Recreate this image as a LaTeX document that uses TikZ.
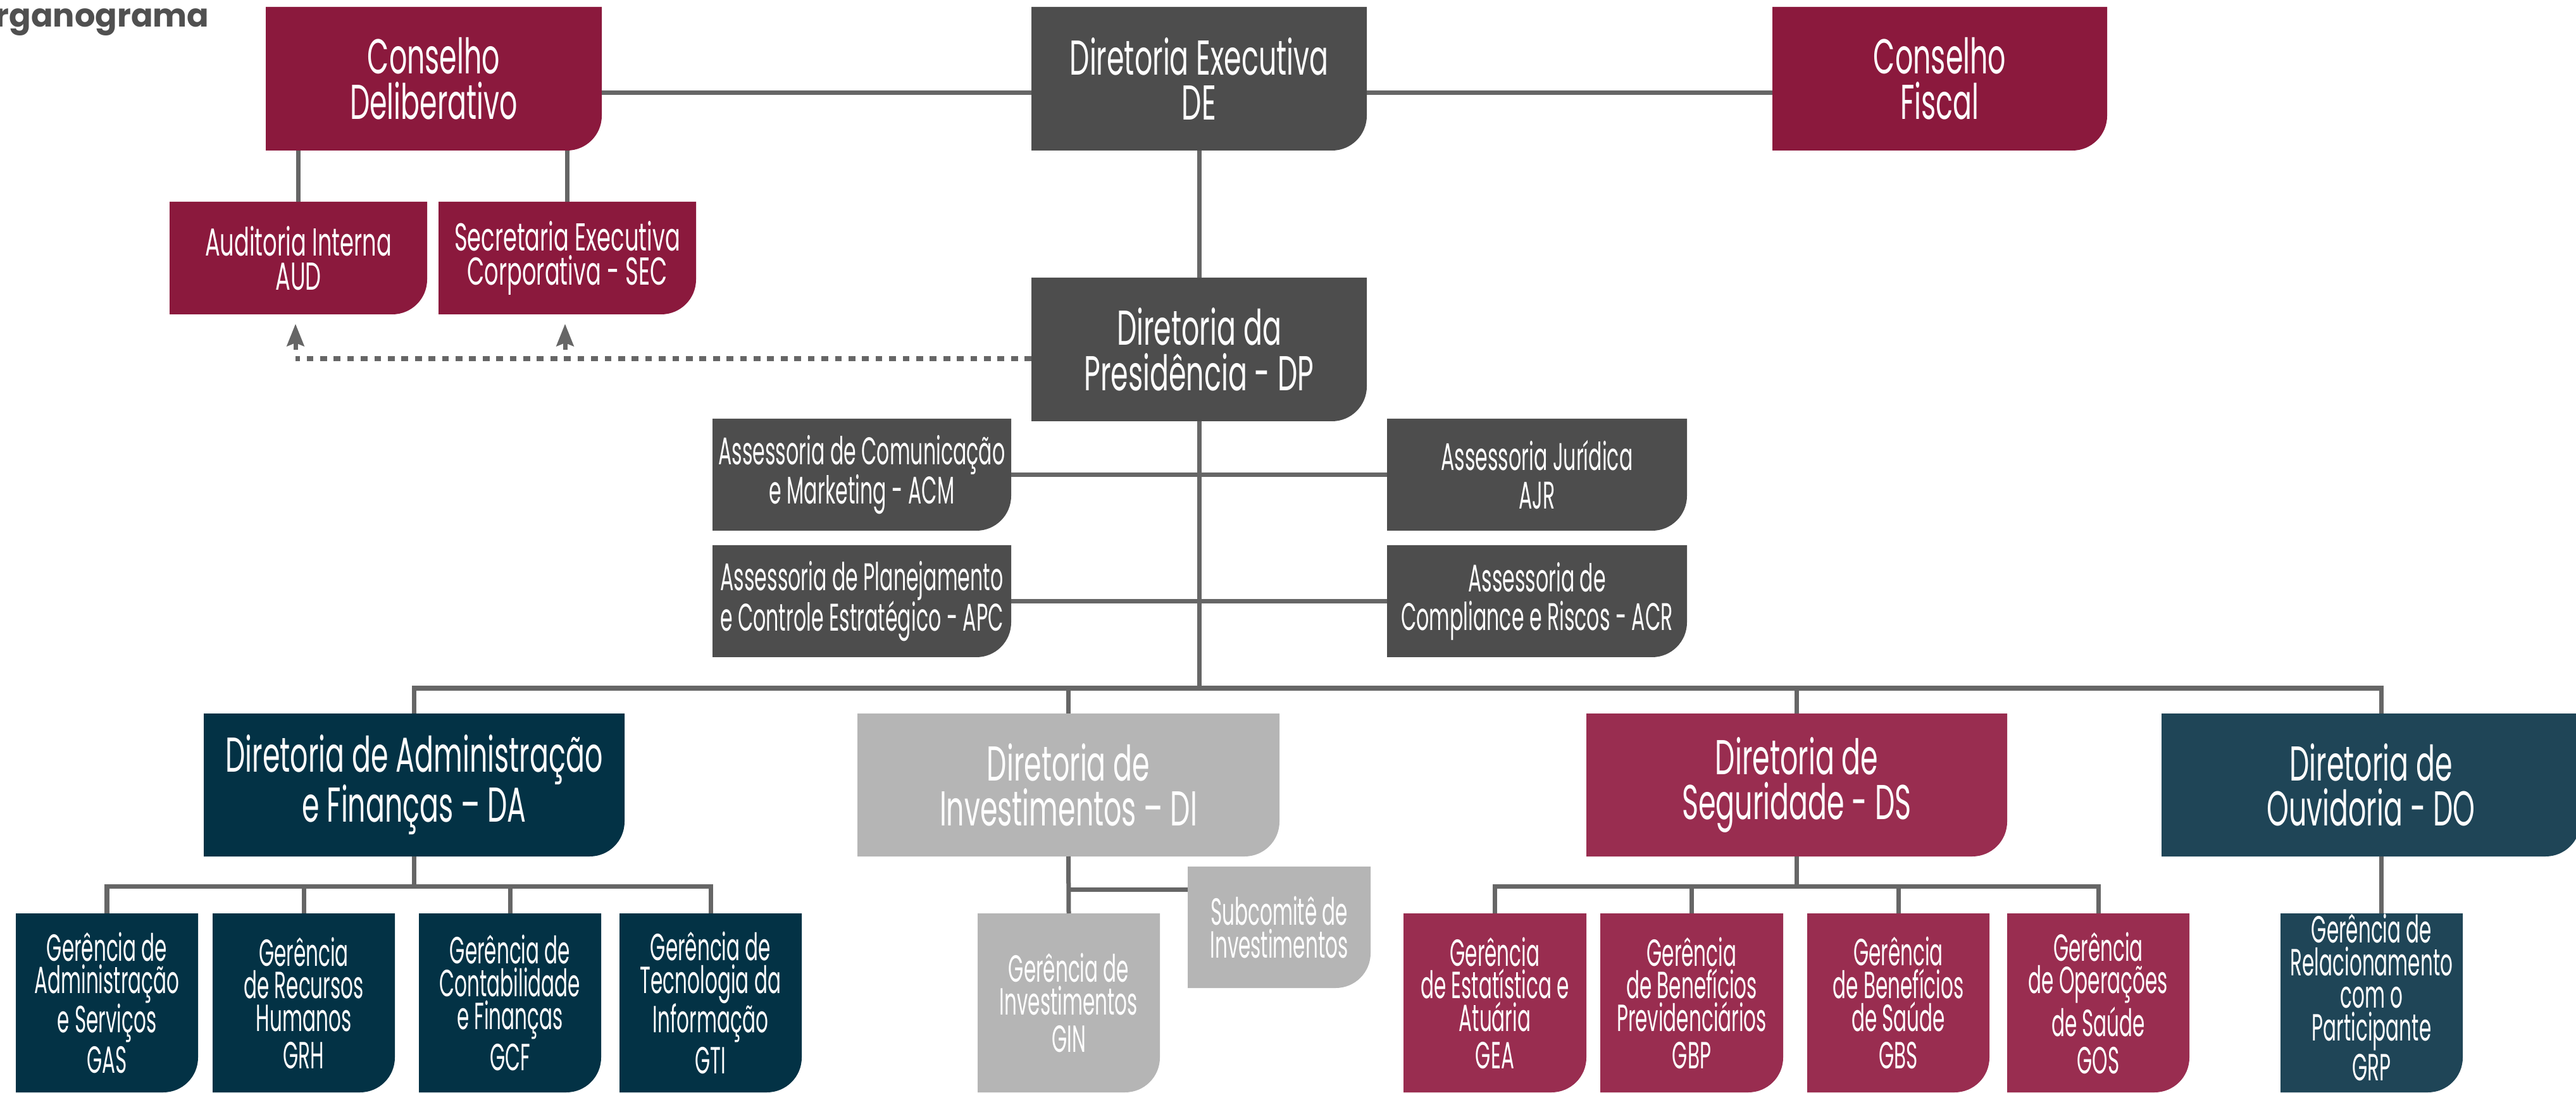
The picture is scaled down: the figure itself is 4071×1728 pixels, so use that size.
\documentclass[tikz,border=0pt]{standalone}
\usepackage{fontspec}
\setmainfont{Poppins}[FakeStretch=0.573]
\newfontfamily\narfont{Poppins}[FakeStretch=0.52]
\newfontfamily\titlefont{Poppins}
\usetikzlibrary{arrows.meta,calc}
\definecolor{crim}{RGB}{139,25,61}
\definecolor{rose}{RGB}{153,45,80}
\definecolor{navy}{RGB}{3,50,69}
\definecolor{slate}{RGB}{31,69,87}
\definecolor{dgray}{RGB}{77,77,77}
\definecolor{lgray}{RGB}{181,181,181}
\definecolor{linec}{RGB}{102,102,102}
\definecolor{titlec}{RGB}{80,80,80}
\tikzset{
  conn/.style={draw=linec, line width=0.07cm},
  dotline/.style={draw=linec, line width=0.08cm, dash pattern=on 0.107cm off 0.107cm},
  upArr/.style={draw=linec, line width=0.07cm, -{Stealth[length=0.35cm,width=0.27cm,inset=0.05cm]}},
  boxlabel/.style={inner sep=0pt, outer sep=0pt, align=center, text=white},
  bigtxt/.style={font=\fontsize{22}{20.4}\selectfont},
  audtxt/.style={font=\fontsize{17.5}{15.3}\selectfont},
  asstxt/.style={font=\narfont\fontsize{17.3}{17.3}\selectfont},
  gertxt/.style={font=\narfont\fontsize{17}{14.7}\selectfont},
}
\newcommand\orgbox[8]{%
  \fill[#6] (#2,#3) -- (#4,#3) -- (#4,{(#3+#5)/2}) [rounded corners=0.55cm] -- (#4,#5) -- ({(#2+#4)/2},#5) [sharp corners] -- (#2,#5) -- cycle;
  \node[boxlabel, #7, minimum width={(#4-#2)*0.01cm}, minimum height={(#5-#3)*0.01cm}] (#1) at ({(#2+#4)/2},{(#3+#5)/2}) {#8};
}
\begin{document}
\lineskiplimit=0pt
\lineskip=0pt
\begin{tikzpicture}[x=0.01cm, y=-0.01cm]
\useasboundingbox (0,0) rectangle (4071,1728);
\clip (0,0) rectangle (4071,1728);

\node[anchor=base west, inner sep=0pt, text=titlec, font={\titlefont\fontsize{14.5}{16}\selectfont\bfseries}] (title) at (-8,43) {rganograma};

% top row
\orgbox{CD}{420}{11}{951}{238}{crim}{bigtxt}{Conselho\\Deliberativo}
\orgbox{DE}{1630}{11}{2160}{238}{dgray}{bigtxt}{Diretoria Executiva\\DE}
\orgbox{CF}{2801}{11}{3330}{238}{crim}{bigtxt}{Conselho\\Fiscal}
\orgbox{AUD}{268}{319}{675}{497}{crim}{audtxt}{Auditoria Interna\\AUD}
\orgbox{SEC}{693}{319}{1100}{497}{crim}{audtxt}{Secretaria Executiva\\Corporativa - SEC}
\orgbox{DP}{1630}{439}{2160}{666}{dgray}{bigtxt}{Diretoria da\\Presidência - DP}
\orgbox{ACM}{1126}{662}{1598}{839}{dgray}{asstxt}{Assessoria de Comunicação\\e Marketing - ACM}
\orgbox{AJR}{2192}{662}{2666}{839}{dgray}{asstxt}{Assessoria Jurídica\\AJR}
\orgbox{APC}{1126}{862}{1598}{1039}{dgray}{asstxt}{Assessoria de Planejamento\\e Controle Estratégico - APC}
\orgbox{ACR}{2192}{862}{2666}{1039}{dgray}{asstxt}{Assessoria de\\Compliance e Riscos - ACR}

% directorates
\orgbox{DA}{322}{1128}{987}{1354}{navy}{bigtxt}{Diretoria de Administração\\e Finanças – DA}
\orgbox{DI}{1355}{1128}{2022}{1354}{lgray}{bigtxt}{Diretoria de\\Investimentos – DI}
\orgbox{DS}{2507}{1128}{3172}{1354}{rose}{bigtxt}{Diretoria de\\Seguridade - DS}
\orgbox{DO}{3416}{1128}{4078}{1354}{slate}{bigtxt}{Diretoria de\\Ouvidoria - DO}

% gerencias
\orgbox{GAS}{25}{1444}{313}{1727}{navy}{gertxt}{Gerência de\\Administração\\e Serviços\\[2pt]GAS}
\orgbox{GRH}{336}{1444}{624}{1727}{navy}{gertxt}{Gerência\\de Recursos\\Humanos\\[2pt]GRH}
\orgbox{GCF}{662}{1444}{950}{1727}{navy}{gertxt}{Gerência de\\Contabilidade\\e Finanças\\[2pt]GCF}
\orgbox{GTI}{979}{1444}{1267}{1727}{navy}{gertxt}{Gerência de\\Tecnologia da\\Informação\\[2pt]GTI}
\orgbox{GIN}{1545}{1444}{1833}{1727}{lgray}{gertxt}{Gerência de\\Investimentos\\[2pt]GIN}
\orgbox{SUB}{1877}{1370}{2166}{1562}{lgray}{gertxt}{Subcomitê de\\Investimentos}
\orgbox{GEA}{2218}{1444}{2507}{1727}{rose}{gertxt}{Gerência\\de Estatística e\\Atuária\\[2pt]GEA}
\orgbox{GBP}{2529}{1444}{2818}{1727}{rose}{gertxt}{Gerência\\de Benefícios\\Previdenciários\\[2pt]GBP}
\orgbox{GBS}{2856}{1444}{3144}{1727}{rose}{gertxt}{Gerência\\de Benefícios\\de Saúde\\[2pt]GBS}
\orgbox{GOS}{3172}{1444}{3460}{1727}{rose}{gertxt}{Gerência\\de Operações\\[1.5pt]de Saúde\\[2pt]GOS}
\orgbox{GRP}{3604}{1444}{3892}{1727}{slate}{gertxt, text depth=5pt}{Gerência de\\Relacionamento\\com o\\Participante\\[1.5pt]GRP}

% helper coordinates
\coordinate (topl) at (0,147);
\coordinate (bus) at (0,1088);
\coordinate (sbus) at (0,1401);
\coordinate (subl) at (0,1406);
\coordinate (dox) at (3763,0);
\coordinate (dot) at (467,567);
\coordinate (a1) at (467,553);
\coordinate (a2) at (893,553);

% connectors
\draw[conn] (CD.east |- topl) -- (DE.west |- topl);
\draw[conn] (DE.east |- topl) -- (CF.west |- topl);
\draw[conn] (AUD.north |- CD.south) -- (AUD.north);
\draw[conn] (SEC.north |- CD.south) -- (SEC.north);
\draw[conn] (DE.south) -- (DP.north);
\draw[conn] (DP.south) -- (DP.south |- bus);
\draw[conn] (ACM.east) -- (AJR.west);
\draw[conn] (APC.east) -- (ACR.west);
\draw[conn] (DA.north) -- (DA.north |- bus) -- (dox |- bus) -- (dox |- DO.north);
\draw[conn] (DI.north) -- (DI.north |- bus);
\draw[conn] (DS.north) -- (DS.north |- bus);

\draw[conn] (GAS.north) -- (GAS.north |- sbus) -- (GTI.north |- sbus) -- (GTI.north);
\draw[conn] (DA.south) -- (DA.south |- sbus);
\draw[conn] (GRH.north) -- (GRH.north |- sbus);
\draw[conn] (GCF.north) -- (GCF.north |- sbus);

\draw[conn] (DI.south) -- (GIN.north);
\draw[conn] (DI.south |- subl) -- (SUB.west |- subl);

\draw[conn] (GEA.north) -- (GEA.north |- sbus) -- (GOS.north |- sbus) -- (GOS.north);
\draw[conn] (DS.south) -- (DS.south |- sbus);
\draw[conn] (GBP.north) -- (GBP.north |- sbus);
\draw[conn] (GBS.north) -- (GBS.north |- sbus);

\draw[conn] (dox |- DO.south) -- (dox |- GRP.north);

\draw[dotline] (DP.west |- dot) -- (dot);
\draw[upArr, shorten >=0.15cm] (a1) -- (a1 |- AUD.south);
\draw[upArr, shorten >=0.15cm] (a2) -- (a2 |- SEC.south);
\end{tikzpicture}
\end{document}
